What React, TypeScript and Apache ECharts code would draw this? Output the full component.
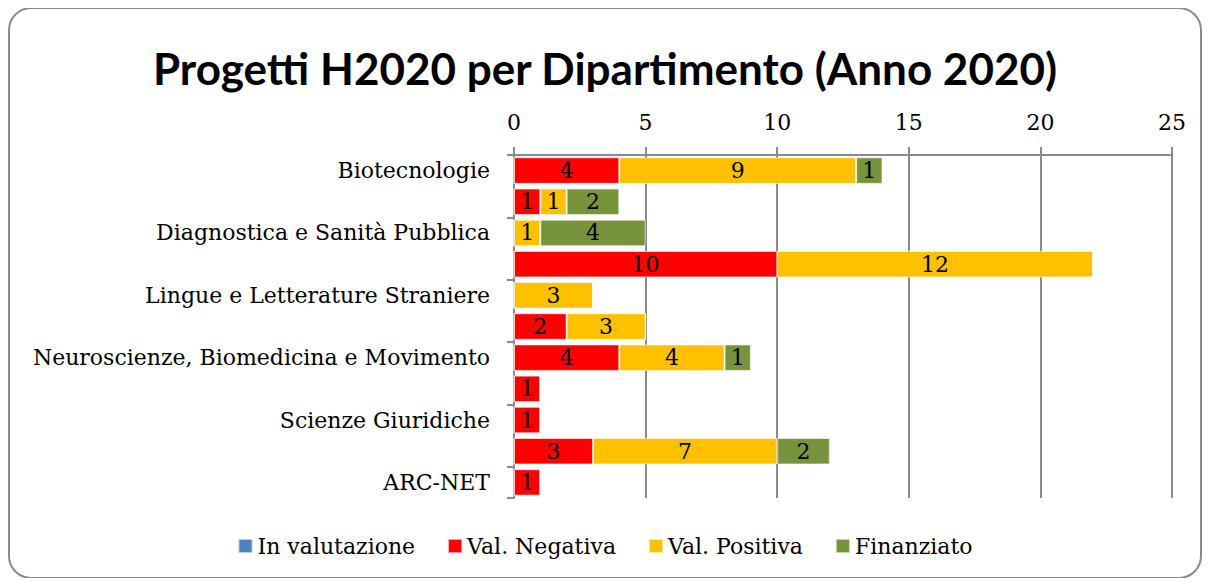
import React, { useEffect, useRef } from "react";
import * as echarts from "echarts";

const categories = [
  "Biotecnologie",
  "Culture e Civiltà",
  "Diagnostica e Sanità Pubblica",
  "Informatica",
  "Lingue e Letterature Straniere",
  "Medicina",
  "Neuroscienze, Biomedicina e Movimento",
  "Scienze Chirurgiche",
  "Scienze Giuridiche",
  "Scienze Umane",
  "ARC-NET",
];
const inValutazione = [0, 0, 0, 0, 0, 0, 0, 0, 0, 0, 0];
const valNegativa = [4, 1, 0, 10, 0, 2, 4, 1, 1, 3, 1];
const valPositiva = [9, 1, 1, 12, 3, 3, 4, 0, 0, 7, 0];
const finanziato = [1, 2, 4, 0, 0, 0, 1, 0, 0, 2, 0];
const xTicks = { min: 0, max: 25, interval: 5 };

const SERIF = "'DejaVu Serif', 'Liberation Serif', serif";

export default function App() {
  const ref = useRef<HTMLDivElement>(null);
  useEffect(() => {
    if (!ref.current) return;
    const chart = echarts.init(ref.current, undefined, { renderer: "svg" });
    const mk = (name: string, data: number[], color: string) => ({
      name,
      type: "bar",
      stack: "tot",
      data,
      barCategoryGap: "15%",
      itemStyle: { color, borderColor: "rgba(255,255,255,0.6)", borderWidth: 1 },
      label: {
        show: true,
        position: "inside",
        color: "#000",
        fontFamily: SERIF,
        fontSize: 22,
        formatter: (p: any) => (p.value ? String(p.value) : ""),
      },
    });
    chart.setOption({
      animation: false,
      graphic: [
        {
          type: "rect",
          shape: { x: 1, y: 0, width: 1192, height: 570, r: 22 },
          style: { fill: "none", stroke: "#8a8a8a", lineWidth: 2 },
          silent: true,
        },
      ],
      title: {
        text: "Progetti H2020 per Dipartimento (Anno 2020)",
        left: "center",
        top: 33,
        textStyle: {
          fontFamily: "Lato, 'Open Sans', sans-serif",
          fontWeight: "bold",
          fontSize: 44,
          color: "#000",
        },
      },
      legend: {
        bottom: 16,
        left: "center",
        itemWidth: 14,
        itemHeight: 14,
        itemGap: 32,
        icon: "rect",
        textStyle: { fontFamily: SERIF, fontSize: 22, color: "#000" },
        data: ["In valutazione", "Val. Negativa", "Val. Positiva", "Finanziato"],
      },
      grid: { left: 506, right: 30, top: 147, bottom: 80 },
      xAxis: {
        type: "value",
        position: "top",
        min: xTicks.min,
        max: xTicks.max,
        interval: xTicks.interval,
        axisLine: { show: true, lineStyle: { color: "#8a8a8a", width: 2 } },
        axisTick: { show: true, length: 8, lineStyle: { color: "#8a8a8a", width: 2 } },
        axisLabel: { color: "#000", fontFamily: SERIF, fontSize: 22, margin: 22 },
        splitLine: { show: true, lineStyle: { color: "#8a8a8a", width: 2 } },
      },
      yAxis: {
        type: "category",
        inverse: true,
        data: categories,
        axisLine: { show: true, lineStyle: { color: "#8a8a8a", width: 2 } },
        axisTick: { show: true, length: 7, lineStyle: { color: "#8a8a8a", width: 2 } },
        axisLabel: {
          interval: 1,
          color: "#000",
          fontFamily: SERIF,
          fontSize: 22,
          margin: 24,
        },
      },
      series: [
        mk("In valutazione", inValutazione, "#4F81BD"),
        mk("Val. Negativa", valNegativa, "#FF0000"),
        mk("Val. Positiva", valPositiva, "#FFC000"),
        mk("Finanziato", finanziato, "#77933C"),
      ],
    });
    return () => chart.dispose();
  }, []);
  return <div ref={ref} style={{ width: 1194, height: 570 }} />;
}
